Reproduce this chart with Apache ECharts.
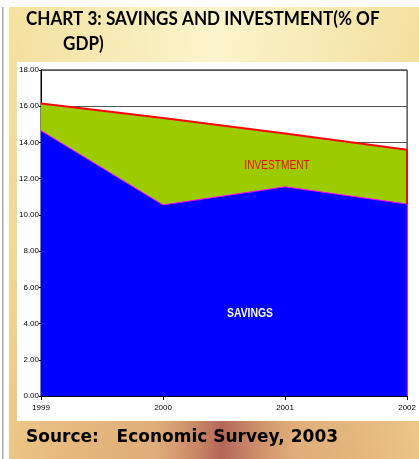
<!DOCTYPE html>
<html><head><meta charset="utf-8">
<script src="https://cdn.jsdelivr.net/npm/echarts@6/dist/echarts.min.js"></script>
<style>html,body{margin:0;padding:0;background:#fff}#c{width:419px;height:459px}</style>
</head><body><div id="c"></div>
<script>
const years = ['1999', '2000', '2001', '2002'];
const savings = [14.65, 10.55, 11.55, 10.6];
const investment = [16.15, 15.35, 14.5, 13.6];
const yMin = 0, yMax = 18, yStep = 2;
const titleLine1 = 'CHART 3: SAVINGS AND INVESTMENT(% OF';
const titleLine2 = 'GDP)';
const sourceText = 'Source:   Economic Survey, 2003';

const chart = echarts.init(document.getElementById('c'), null, {renderer: 'canvas'});
chart.setOption({
  backgroundColor: 'transparent',
  animation: false,
  graphic: [
    {type: 'rect', z: -20, shape: {x: 9, y: 7, width: 410, height: 452},
      style: {fill: new echarts.graphic.LinearGradient(0, 0, 0, 1, [
        {offset: 0, color: '#f4e2a2'}, {offset: 0.6, color: '#f1d592'}, {offset: 1, color: '#ecc585'}])}},
    {type: 'rect', z: -19, shape: {x: 9, y: 7, width: 410, height: 55},
      style: {fill: new echarts.graphic.LinearGradient(0, 0, 1, 0, [
        {offset: 0, color: 'rgba(250,245,205,0)'}, {offset: 0.5, color: 'rgba(251,247,210,0.9)'}, {offset: 1, color: 'rgba(250,245,205,0)'}])}},
    {type: 'rect', z: -19, shape: {x: 9, y: 421, width: 410, height: 38},
      style: {fill: new echarts.graphic.LinearGradient(0, 0, 1, 0, [
        {offset: 0, color: 'rgba(180,90,80,0)'}, {offset: 0.35, color: 'rgba(200,130,100,0.35)'},
        {offset: 0.52, color: 'rgba(170,85,80,0.85)'}, {offset: 0.7, color: 'rgba(200,130,100,0.35)'}, {offset: 1, color: 'rgba(180,90,80,0)'}])}},
    {type: 'rect', z: -18, shape: {x: 2, y: 7, width: 1.5, height: 452}, style: {fill: '#a8a8a8'}},
    {type: 'rect', z: -18, shape: {x: 17, y: 62, width: 402, height: 359}, style: {fill: '#ffffff'}},
    {type: 'text', z: 100, x: 26, y: 10, scaleX: 0.95, originX: 0,
      style: {text: titleLine1, fill: '#000', font: 'bold 18px Lato', textVerticalAlign: 'top'}},
    {type: 'text', z: 100, x: 63, y: 35, scaleX: 0.95, originX: 0,
      style: {text: titleLine2, fill: '#000', font: 'bold 18px Lato', textVerticalAlign: 'top'}},
    {type: 'text', z: 100, x: 26, y: 429,
      style: {text: sourceText, fill: '#000', font: 'bold 17px "DejaVu Sans"', textVerticalAlign: 'top'}},
    {type: 'text', z: 100, x: 277, y: 165, scaleX: 0.78, originX: 0,
      style: {text: 'INVESTMENT', fill: '#ff0000', font: '13px "Liberation Sans"', textAlign: 'center', textVerticalAlign: 'middle'}},
    {type: 'text', z: 100, x: 250, y: 313, scaleX: 0.8, originX: 0,
      style: {text: 'SAVINGS', fill: '#ffffff', font: 'bold 13px "Liberation Sans"', textAlign: 'center', textVerticalAlign: 'middle'}}
  ],
  grid: {left: 41, right: 9, top: 70, bottom: 63, show: true, borderColor: '#000', borderWidth: 1, backgroundColor: 'transparent'},
  xAxis: {
    type: 'category', data: years, boundaryGap: false,
    axisLine: {lineStyle: {color: '#000', width: 1}},
    axisTick: {show: true, length: 4, lineStyle: {color: '#000'}},
    axisLabel: {color: '#000', fontSize: 8, fontFamily: 'Liberation Sans', margin: 8},
    splitLine: {show: false}
  },
  yAxis: {
    type: 'value', min: yMin, max: yMax, interval: yStep,
    axisLine: {show: true, lineStyle: {color: '#000', width: 1}},
    axisTick: {show: true, length: 2, lineStyle: {color: '#000'}},
    axisLabel: {color: '#000', fontSize: 8, fontFamily: 'Liberation Sans', margin: 2, formatter: v => v.toFixed(2)},
    splitLine: {show: true, lineStyle: {color: '#555', width: 1}}
  },
  series: [
    {name: 'Investment', type: 'line', data: investment, symbol: 'none', z: 3,
      lineStyle: {color: '#ff0000', width: 2}, areaStyle: {color: '#9ccc00', opacity: 1},
      markLine: {silent: true, symbol: 'none', label: {show: false}, lineStyle: {color: '#ff0000', width: 2, type: 'solid'},
        data: [[{coord: [years[3], savings[3]]}, {coord: [years[3], investment[3]]}]]}},
    {name: 'Savings', type: 'line', data: savings, symbol: 'none', z: 4,
      lineStyle: {color: '#ff00ff', width: 1}, areaStyle: {color: '#0000ff', opacity: 1},
      markLine: {silent: true, symbol: 'none', label: {show: false}, lineStyle: {color: '#ff00ff', width: 1, type: 'solid'},
        data: [[{coord: [years[3], 0]}, {coord: [years[3], savings[3]]}]]}}
  ]
});
</script></body></html>
